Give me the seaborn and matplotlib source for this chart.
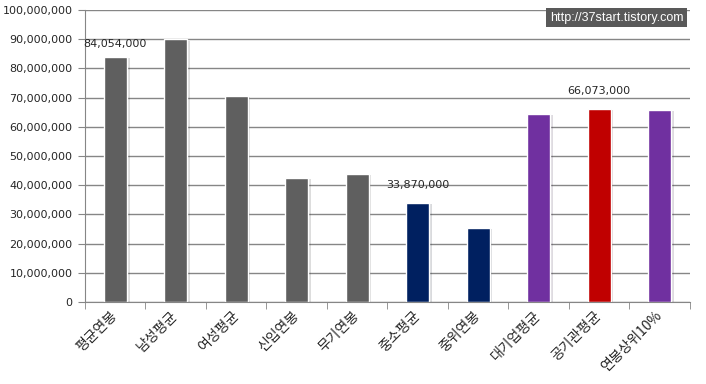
import matplotlib
matplotlib.use("Agg")
import matplotlib.pyplot as plt
import matplotlib.patheffects as pe
from matplotlib.ticker import FuncFormatter, FixedLocator
import pandas as pd
import seaborn as sns

# 연봉 비교 데이터
categories = ['평균연봉', '남성평균', '여성평균', '신입연봉', '무기연봉',
              '중소평균', '중위연봉', '대기업평균', '공기관평균', '연봉상위10%']
salaries = [84054000, 90000000, 70700000, 42600000, 44000000,
            33870000, 25400000, 64400000, 66073000, 65900000]
colors = ['#5f5f5f'] * 5 + ['#002060'] * 2 + ['#7030a0', '#c00000', '#7030a0']
labelled = ['평균연봉', '중소평균', '공기관평균']

df = pd.DataFrame({'항목': categories, '연봉': salaries})

sns.set_style('white')
plt.rcParams['font.family'] = ['DejaVu Sans', 'Noto Sans CJK KR']

fig = plt.figure(figsize=(7.06, 3.84), dpi=100)
ax = fig.add_axes([0.1204, 0.2135, 0.8566, 0.7605])

sns.barplot(data=df, x='항목', y='연봉', hue='항목', palette=colors,
            legend=False, width=0.38, saturation=1, ax=ax)
for bar in ax.patches:
    bar.set_path_effects([pe.SimplePatchShadow(offset=(2, -1), alpha=0.15),
                          pe.Normal()])

ax.set_xlim(-0.5, len(categories) - 0.5)
ax.set_ylim(0, 100000000)
ax.set_yticks(range(0, 100000001, 10000000))
ax.yaxis.set_major_formatter(FuncFormatter(lambda v, p: f'{int(v):,}'))
ax.grid(axis='y', color='#868686', linewidth=1)
ax.set_axisbelow(True)
ax.set_xlabel('')
ax.set_ylabel('')

for s in ['top', 'right']:
    ax.spines[s].set_visible(False)
for s in ['left', 'bottom']:
    ax.spines[s].set_color('#868686')

ax.tick_params(axis='y', labelsize=8, length=5, color='#868686', direction='out',
               left=True, pad=4)
ax.tick_params(axis='x', which='major', length=0, pad=8)
ax.xaxis.set_minor_locator(FixedLocator([i - 0.5 for i in range(len(categories) + 1)]))
ax.tick_params(axis='x', which='minor', length=5, color='#868686', bottom=True)
ax.set_xticks(range(len(categories)))
ax.set_xticklabels(categories, rotation=45, ha='right', va='center',
                   rotation_mode='anchor', fontsize=10,
                   family=['Noto Sans CJK KR', 'DejaVu Sans'])

# 값 레이블
for cat, val in zip(categories, salaries):
    if cat in labelled:
        i = categories.index(cat)
        ax.text(i, val + 4500000 if cat != '평균연봉' else val + 2500000,
                f'{val:,}', ha='center', va='bottom', fontsize=8)

# 워터마크
fig.text(0.968, 0.954, 'http://37start.tistory.com', ha='right', va='center',
         fontsize=9, color='white', family='Liberation Sans',
         bbox=dict(boxstyle='square,pad=0.3', facecolor='#595959', edgecolor='none'))

fig.savefig('out.png', dpi=100)
